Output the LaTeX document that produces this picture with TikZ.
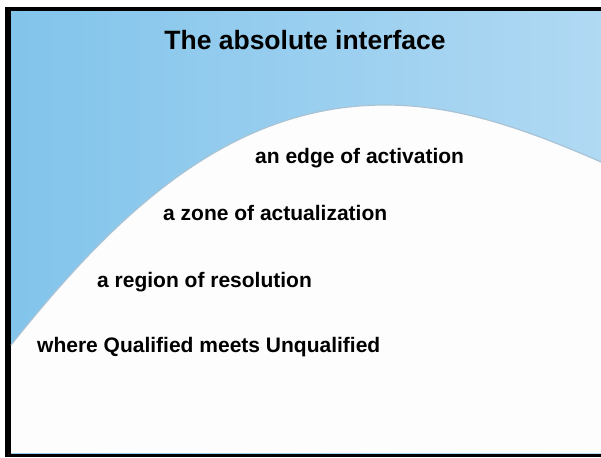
\documentclass[tikz,border=0pt]{standalone}
\usepackage{fontspec}
\setmainfont{Liberation Sans}
\definecolor{skyL}{HTML}{82C4EB}
\definecolor{skyM}{HTML}{BCE1F6}
\definecolor{skyR}{HTML}{B0D9F3}
\definecolor{edgeline}{HTML}{A9C3D5}
\definecolor{paper}{HTML}{FDFDFD}
\tikzset{
  title/.style={inner sep=0pt, anchor=base, font=\fontsize{26.5}{30}\selectfont\bfseries},
  phrase/.style={inner sep=0pt, anchor=base west, font=\fontsize{21}{24}\selectfont\bfseries}
}
\begin{document}
\begin{tikzpicture}[x=1pt,y=-1pt]
\useasboundingbox (0,0) rectangle (601,457);
% frame
\fill[black] (5,7) rectangle (601,457);
\shade[left color=skyL, middle color=skyM, right color=skyR] (11,12) rectangle (601,453);
% hill boundary points
\coordinate (hL) at (11,345);
\coordinate (hT) at (385,105);
\coordinate (hR) at (601,162);
% white hill
\fill[paper] (hL) .. controls (111,220) and (225,105) .. (hT)
  .. controls (455,105) and (521,127) .. (hR) -- (601,453) -- (11,453) -- cycle;
\draw[edgeline, line width=1.2pt] (hL) .. controls (111,220) and (225,105) .. (hT)
  .. controls (455,105) and (521,127) .. (hR);
% texts
\node[title] (t) at (305,50) {The absolute interface};
\node[phrase] (p1) at (255,163) {an edge of activation};
\node[phrase] (p2) at (163,220) {a zone of actualization};
\node[phrase] (p3) at (97,287) {a region of resolution};
\node[phrase] (p4) at (37,352) {where Qualified meets Unqualified};
\end{tikzpicture}
\end{document}
